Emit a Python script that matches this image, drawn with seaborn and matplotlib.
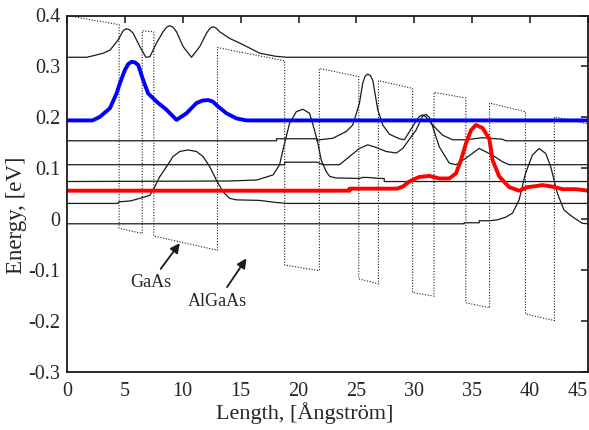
import matplotlib
matplotlib.use("Agg")
import seaborn as sns
import matplotlib.pyplot as plt

# conduction band profile (layer edges repeated at the steps)
pot_x = [0, 4.5, 4.5, 6.5, 6.5, 7.5, 7.5, 13.0, 13.0, 18.8, 18.8, 21.8, 21.8, 25.2, 25.2,
         26.9, 26.9, 29.85, 29.85, 31.7, 31.7, 34.45, 34.45, 36.5, 36.5, 39.6, 39.6, 42.1, 42.1, 45]
pot_e = [0.400, 0.382, -0.018, -0.028, 0.370, 0.368, -0.033, -0.061, 0.337, 0.311, -0.090, -0.101,
         0.296, 0.280, -0.117, -0.127, 0.272, 0.257, -0.144, -0.151, 0.249, 0.238, -0.164, -0.174,
         0.228, 0.211, -0.186, -0.199, 0.201, 0.187]

# wavefunctions drawn on their energy levels
a_x = [0, 1.7, 2.27, 3.13, 3.71, 4.42, 4.85, 5.1, 5.4, 5.72, 6.29, 6.81, 7.16, 7.73, 8.30, 8.6,
       8.88, 9.16, 9.46, 10.03, 10.75, 11.47, 12.04, 12.35, 12.61, 12.9, 13.19, 14.05, 14.91, 15.78,
       16.64, 18.0, 19.0, 45]
a_e = [0.318, 0.318, 0.321, 0.326, 0.332, 0.352, 0.370, 0.374, 0.372, 0.365, 0.339, 0.318, 0.319,
       0.346, 0.368, 0.377, 0.380, 0.377, 0.368, 0.339, 0.318, 0.339, 0.365, 0.375, 0.378, 0.375,
       0.368, 0.355, 0.346, 0.336, 0.326, 0.320, 0.318, 0.318]

blue_x = [0, 2.2, 2.84, 3.71, 4.28, 4.57, 5.0, 5.3, 5.58, 5.85, 6.15, 6.58, 7.01, 7.73, 8.59, 9.46,
          10.32, 11.18, 11.7, 12.18, 12.6, 12.91, 13.77, 14.63, 15.49, 45]
blue_e = [0.194, 0.194, 0.201, 0.218, 0.247, 0.267, 0.293, 0.305, 0.309, 0.308, 0.303, 0.273, 0.247,
          0.231, 0.215, 0.195, 0.208, 0.228, 0.233, 0.234, 0.231, 0.224, 0.208, 0.198, 0.194, 0.194]

d_x = [0, 18.1, 18.1, 21.6, 21.6, 21.81, 22.96, 24.11, 24.68, 25.26, 25.54, 25.75, 25.97, 26.2,
       26.41, 26.84, 27.27, 27.84, 28.71, 29.14, 29.85, 30.4, 30.72, 31.0, 31.58, 32.44, 33.30,
       34.46, 35.89, 37.61, 37.91, 45]
d_e = [0.154, 0.154, 0.158, 0.158, 0.154, 0.156, 0.159, 0.172, 0.185, 0.228, 0.267, 0.281, 0.285,
       0.282, 0.273, 0.215, 0.185, 0.167, 0.158, 0.156, 0.182, 0.201, 0.205, 0.201, 0.185, 0.165,
       0.156, 0.156, 0.160, 0.157, 0.154, 0.154]

e_x = [0, 18.8, 18.8, 21.6, 22.1, 23.54, 24.40, 25.26, 25.97, 26.7, 27.56, 28.45, 29.0, 30.15, 30.7,
       31.0, 31.3, 31.58, 32.16, 33.02, 33.6, 34.46, 35.6, 36.74, 37.6, 38.19, 45]
e_e = [0.107, 0.107, 0.112, 0.112, 0.107, 0.107, 0.123, 0.139, 0.146, 0.141, 0.133, 0.130, 0.139,
       0.175, 0.202, 0.206, 0.200, 0.182, 0.142, 0.110, 0.107, 0.120, 0.139, 0.126, 0.113, 0.107,
       0.107]

c_x = [0, 14.0, 16.4, 17.8, 18.36, 18.79, 19.22, 19.8, 20.37, 20.95, 21.38, 21.67, 21.96, 22.4,
       22.7, 23.25, 25.26, 25.5, 26.0, 27.0, 27.4, 27.4, 45]
c_e = [0.074, 0.075, 0.077, 0.087, 0.107, 0.149, 0.188, 0.211, 0.216, 0.208, 0.175, 0.149, 0.116,
       0.093, 0.084, 0.081, 0.080, 0.082, 0.082, 0.080, 0.080, 0.074, 0.074]

red_x = [0, 24.4, 24.4, 28.5, 29.0, 29.57, 30.43, 31.3, 32.16, 33.02, 33.6, 34.03, 34.46, 34.9,
         35.32, 35.9, 36.47, 36.76, 37.33, 38.19, 39.05, 39.77, 40.5, 41.07, 41.93, 42.8, 43.94, 45]
red_e = [0.056, 0.056, 0.060, 0.060, 0.064, 0.074, 0.083, 0.085, 0.080, 0.080, 0.090, 0.116, 0.149,
         0.175, 0.185, 0.179, 0.158, 0.116, 0.084, 0.063, 0.056, 0.063, 0.065, 0.067, 0.064, 0.059,
         0.059, 0.056]

g_x = [0, 4.4, 4.45, 5.5, 6.29, 7.16, 7.59, 8.0, 8.59, 9.16, 9.74, 10.45, 11.18, 11.75, 12.33,
       12.9, 13.47, 14.05, 14.63, 16.6, 18.0, 19.0, 45]
g_e = [0.031, 0.031, 0.034, 0.036, 0.041, 0.047, 0.064, 0.083, 0.103, 0.123, 0.133, 0.136, 0.133,
       0.123, 0.103, 0.077, 0.054, 0.041, 0.038, 0.037, 0.033, 0.031, 0.031]

f_x = [0, 34.3, 34.3, 35.6, 35.6, 36.5, 37.2, 37.9, 38.48, 39.05, 39.6, 40.2, 40.78, 41.35, 41.78,
       42.35, 42.93, 43.64, 44.5, 45]
f_e = [-0.009, -0.009, -0.007, -0.007, -0.003, -0.003, -0.001, 0.004, 0.012, 0.038, 0.090, 0.126,
       0.139, 0.129, 0.103, 0.051, 0.018, 0.005, -0.008, -0.009]

x_ticks = [0, 5, 10, 15, 20, 25, 30, 35, 40, 45]
y_ticks = [-0.3, -0.2, -0.1, 0, 0.1, 0.2, 0.3, 0.4]
y_labels = ["-0.3", "-0.2", "-0.1", "0", "0.1", "0.2", "0.3", "0.4"]

sns.set_theme(style="white")
plt.rcParams['font.family'] = ['Liberation Serif', 'DejaVu Serif']

fig = plt.figure(figsize=(5.89, 4.30), dpi=100)
ax = fig.add_axes([67 / 589, 1 - 372 / 430, (588 - 67) / 589, (372 - 15.5) / 430])

sns.lineplot(x=pot_x, y=pot_e, estimator=None, sort=False, color="k", lw=0.8,
             linestyle=(0, (1, 1.5)), ax=ax)
for xs, es in [(a_x, a_e), (d_x, d_e), (e_x, e_e), (c_x, c_e), (g_x, g_e), (f_x, f_e)]:
    sns.lineplot(x=xs, y=es, estimator=None, sort=False, color="k", lw=0.9, ax=ax)
sns.lineplot(x=blue_x, y=blue_e, estimator=None, sort=False, color="#0000ff", lw=2.8, ax=ax)
sns.lineplot(x=red_x, y=red_e, estimator=None, sort=False, color="#ff0000", lw=2.8, ax=ax)

arrow = dict(arrowstyle="-|>", color="k", lw=1.3, mutation_scale=14, shrinkB=0)
ax.annotate("GaAs", xy=(9.74, -0.047), xytext=(7.2, -0.125), ha="center", va="center",
            fontsize=13, arrowprops=arrow)
ax.annotate("AlGaAs", xy=(15.5, -0.077), xytext=(13.0, -0.161), ha="center", va="center",
            fontsize=13, arrowprops=arrow)

ax.set_xlim(0, 45)
ax.set_ylim(-0.3, 0.4)
ax.set_xticks(x_ticks)
ax.set_yticks(y_ticks)
ax.set_yticklabels(y_labels)
ax.tick_params(direction="in", length=5, width=1.2, top=True, right=True, labelsize=14.5)
ax.tick_params(axis="x", pad=7)
ax.tick_params(axis="y", pad=5)
ax.get_xticklabels()[-1].set_horizontalalignment("right")
for s in ax.spines.values():
    s.set_linewidth(1.3)
    s.set_color("k")
ax.set_xlabel("Length, [Ångström]", fontsize=16)
ax.set_ylabel("Energy, [eV]", fontsize=16.5)
ax.xaxis.set_label_coords(0.457, -0.085)
ax.yaxis.set_label_coords(-0.077, 0.44)

fig.savefig("out.png", dpi=100)
